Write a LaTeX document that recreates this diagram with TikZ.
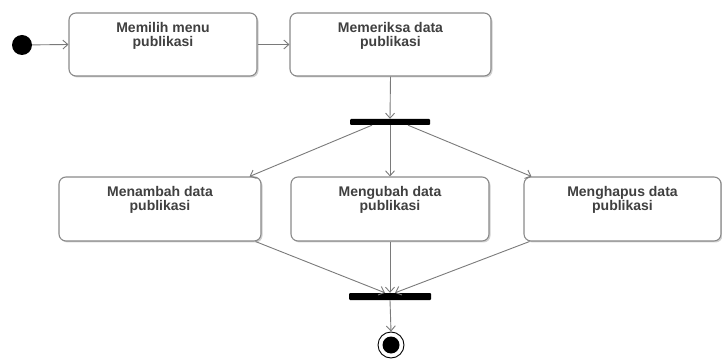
\documentclass[tikz,border=0pt]{standalone}
\usepackage{fontspec}
\setmainfont{Liberation Sans}
\usetikzlibrary{arrows.meta,shadows}
\definecolor{edge}{HTML}{7A7A7A}
\definecolor{boxline}{HTML}{8A8A8A}
\tikzset{
  act/.style={draw=boxline, line width=1.1pt, rounded corners=7pt, fill=white,
    drop shadow={shadow xshift=1.5pt, shadow yshift=-1.5pt, opacity=0.18, fill=black},
    inner sep=0pt},
  acttext/.style={anchor=north, yshift=-6pt, align=center,
    font=\fontsize{14}{14}\selectfont\bfseries, text=black!75},
  bar/.style={fill=black, rounded corners=1pt, inner sep=0pt},
  flow/.style={draw=edge, line width=0.9pt, -{Straight Barb[length=5pt,width=9pt,line width=0.9pt]}},
}
\begin{document}
\begin{tikzpicture}[x=1pt,y=-1pt]
\useasboundingbox (0,0) rectangle (722,363);
% start
\node[circle, fill=black, minimum size=20pt, inner sep=0pt] (start) at (22,45) {};
% row 1
\node[act, minimum width=188pt, minimum height=63pt,
  label={[acttext]north:{Memilih menu\\publikasi}}] (b1) at (163,44.5) {};
\node[act, minimum width=201pt, minimum height=63pt,
  label={[acttext]north:{Memeriksa data\\publikasi}}] (b2) at (390.5,44.5) {};
% fork
\node[bar, minimum width=80pt, minimum height=6pt] (fork) at (390,122) {};
% row 2
\node[act, minimum width=202pt, minimum height=64pt,
  label={[acttext]north:{Menambah data\\publikasi}}] (b3) at (160,209) {};
\node[act, minimum width=198pt, minimum height=64pt,
  label={[acttext]north:{Mengubah data\\publikasi}}] (b4) at (390,209) {};
\node[act, minimum width=197pt, minimum height=64pt,
  label={[acttext]north:{Menghapus data\\publikasi}}] (b5) at (622.5,209) {};
% join
\node[bar, minimum width=82pt, minimum height=7pt] (join) at (390,296.5) {};
% end
\node[circle, draw=black, line width=0.9pt, fill=white, minimum size=26pt, inner sep=0pt] (endo) at (391,345) {};
\node[circle, fill=black, minimum size=17pt, inner sep=0pt] (endi) at (endo.center) {};
% coordinates on bars
\coordinate (fl) at ([xshift=-18pt]fork.south);
\coordinate (fr) at ([xshift=18pt]fork.south);
\coordinate (jl) at ([xshift=-5pt]join.north);
\coordinate (jr) at ([xshift=5pt]join.north);
\coordinate (b3in) at ([xshift=-12pt]b3.north east);
\coordinate (b5in) at ([xshift=8pt]b5.north west);
\coordinate (b3out) at ([xshift=-6pt]b3.south east);
\coordinate (b5out) at ([xshift=6pt]b5.south west);
% flows
\draw[flow] (start) -- (b1.west);
\draw[flow] (b1.east) -- (b2.west);
\draw[flow] (b2.south) -- (fork.north);
\draw[flow] (fl) -- (b3in);
\draw[flow] (fork.south) -- (b4.north);
\draw[flow] (fr) -- (b5in);
\draw[flow] (b3out) -- (jl);
\draw[flow] (b4.south) -- (join.north);
\draw[flow] (b5out) -- (jr);
\draw[flow] (join.south) -- (endo.north);
\end{tikzpicture}
\end{document}
